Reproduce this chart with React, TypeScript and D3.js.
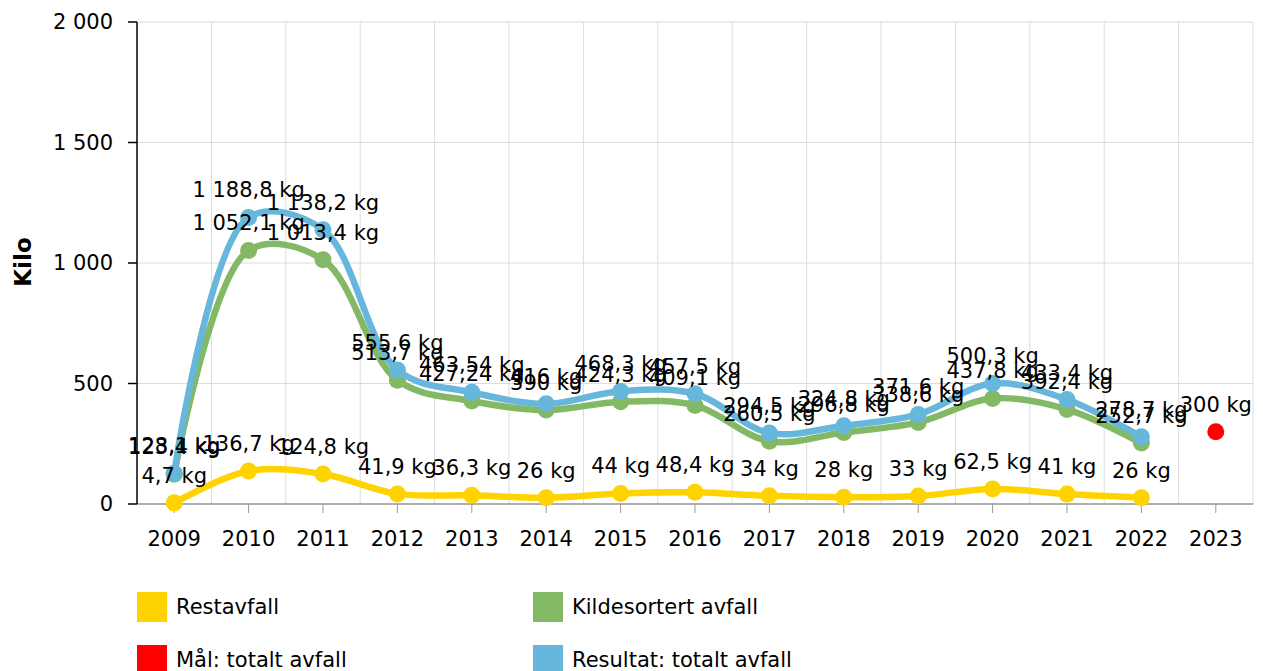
import React from 'react';
import * as d3 from 'd3';

const years = ['2009', '2010', '2011', '2012', '2013', '2014', '2015', '2016', '2017', '2018', '2019', '2020', '2021', '2022', '2023'];
const restavfall = [4.7, 136.7, 124.8, 41.9, 36.3, 26, 44, 48.4, 34, 28, 33, 62.5, 41, 26];
const kildesortert = [123.4, 1052.1, 1013.4, 513.7, 427.24, 390, 424.3, 409.1, 260.5, 296.8, 338.6, 437.8, 392.4, 252.7];
const totalt = [128.1, 1188.8, 1138.2, 555.6, 463.54, 416, 468.3, 457.5, 294.5, 324.8, 371.6, 500.3, 433.4, 278.7];
const maal = [{ year: '2023', value: 300 }];
const yTicks = [0, 500, 1000, 1500, 2000];

const YELLOW = '#ffd300';
const GREEN = '#83b865';
const BLUE = '#67b7dc';
const RED = '#ff0000';
const FONT = 'DejaVu Sans, Verdana, sans-serif';

const fmt = (v: number) => {
  const s = d3.format(',')(v).replace(/,/g, ' ').replace('.', ',');
  return s + ' kg';
};

const App = () => {
  const width = 1263;
  const height = 671;
  const margin = { top: 22, right: 10, bottom: 167, left: 137 };
  const innerW = width - margin.left - margin.right;
  const innerH = height - margin.top - margin.bottom;

  const x = d3.scaleBand().domain(years).range([0, innerW]);
  const y = d3.scaleLinear().domain([0, 2000]).range([innerH, 0]);
  const cx = (yr: string) => (x(yr) as number) + x.bandwidth() / 2;

  const line = d3.line<number>()
    .x((_, i) => cx(years[i]))
    .y(d => y(d))
    .curve(d3.curveCatmullRom.alpha(0.5));

  const series = [
    { name: 'Restavfall', values: restavfall, color: YELLOW },
    { name: 'Kildesortert avfall', values: kildesortert, color: GREEN },
    { name: 'Resultat: totalt avfall', values: totalt, color: BLUE },
  ];

  const legend = [
    { name: 'Restavfall', color: YELLOW, col: 0, row: 0 },
    { name: 'Kildesortert avfall', color: GREEN, col: 1, row: 0 },
    { name: 'Mål: totalt avfall', color: RED, col: 0, row: 1 },
    { name: 'Resultat: totalt avfall', color: BLUE, col: 1, row: 1 },
  ];

  return (
    <svg width={width} height={height} style={{ position: 'absolute', left: 0, top: 0, fontFamily: FONT }}>
      <g transform={`translate(${margin.left},${margin.top})`}>
        {/* grid */}
        {yTicks.map(t => (
          <line key={t} x1={0} x2={innerW} y1={y(t)} y2={y(t)} stroke="#dcdcdc" strokeWidth={1} />
        ))}
        {years.map((yr, i) => i > 0 && (
          <line key={yr} x1={x(yr)} x2={x(yr)} y1={0} y2={innerH} stroke="#dcdcdc" strokeWidth={1} />
        ))}
        <line x1={innerW} x2={innerW} y1={0} y2={innerH} stroke="#dcdcdc" />

        {/* axes */}
        <line x1={0} x2={innerW} y1={innerH} y2={innerH} stroke="#999" strokeWidth={1.5} />
        {years.map(yr => (
          <g key={yr}>
            <line x1={cx(yr)} x2={cx(yr)} y1={innerH} y2={innerH + 9} stroke="#999" />
            <text x={cx(yr)} y={innerH + 42} textAnchor="middle" fontSize={21} fill="#000">{yr}</text>
          </g>
        ))}
        <line x1={0} x2={0} y1={0} y2={innerH} stroke="#000" strokeWidth={1.5} />
        {yTicks.map(t => (
          <g key={t}>
            <line x1={-9} x2={0} y1={y(t)} y2={y(t)} stroke="#000" strokeWidth={1.5} />
            <text x={-24} y={y(t)} dy="0.35em" textAnchor="end" fontSize={21} fill="#000">
              {d3.format(',')(t).replace(/,/g, ' ')}
            </text>
          </g>
        ))}
        <text transform={`translate(${-106},${innerH / 2 - 1}) rotate(-90)`} textAnchor="middle" fontSize={23} fontWeight="bold" fill="#000">Kilo</text>

        {/* lines */}
        {series.map(s => (
          <g key={s.name}>
            <path d={line(s.values) as string} fill="none" stroke={s.color} strokeWidth={6.5} strokeLinejoin="round" />
            {s.values.map((v, i) => (
              <circle key={i} cx={cx(years[i])} cy={y(v)} r={8.5} fill={s.color} />
            ))}
          </g>
        ))}
        {maal.map(d => (
          <circle key={d.year} cx={cx(d.year)} cy={y(d.value)} r={8.5} fill={RED} />
        ))}

        {/* labels */}
        {series.map(s => (
          <g key={s.name + '-lbl'}>
            {s.values.map((v, i) => (
              <text key={i} x={cx(years[i])} y={y(v) - 20} textAnchor="middle" fontSize={21} fill="#000">{fmt(v)}</text>
            ))}
          </g>
        ))}
        {maal.map(d => (
          <text key={d.year} x={cx(d.year)} y={y(d.value) - 20} textAnchor="middle" fontSize={21} fill="#000">{fmt(d.value)}</text>
        ))}
      </g>

      {/* legend */}
      {legend.map(l => (
        <g key={l.name} transform={`translate(${137 + l.col * 396},${592 + l.row * 53})`}>
          <rect width={30} height={30} fill={l.color} />
          <text x={39} y={22} fontSize={21} fill="#000">{l.name}</text>
        </g>
      ))}
    </svg>
  );
};

export default App;
